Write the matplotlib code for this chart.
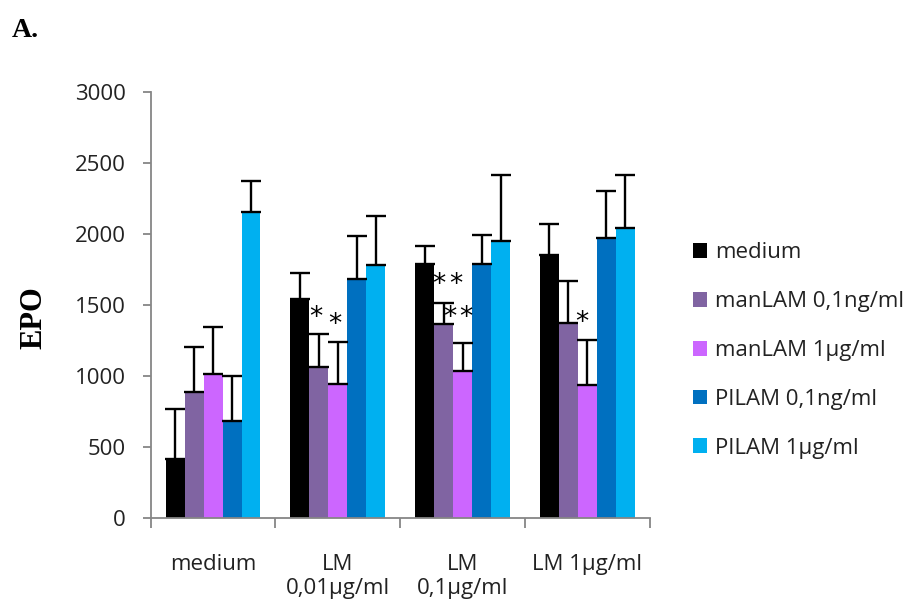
import numpy as np
import matplotlib
matplotlib.use("Agg")
import matplotlib.pyplot as plt

## data
groups = ["medium", "LM\n0,01µg/ml", "LM\n0,1µg/ml", "LM 1µg/ml"]
series = ["medium", "manLAM 0,1ng/ml", "manLAM 1µg/ml", "PILAM 0,1ng/ml", "PILAM 1µg/ml"]
colors = ["#000000", "#8064A2", "#CC66FF", "#0070C0", "#00B0F0"]

medium_vals = [415, 1540, 1793, 1856]
man01_vals = [891, 1062, 1369, 1376]
man1_vals = [1017, 945, 1036, 935]
pi01_vals = [682, 1685, 1793, 1973]
pi1_vals = [2154, 1786, 1955, 2046]

medium_err = [351, 183, 122, 218]
man01_err = [316, 234, 147, 293]
man1_err = [326, 295, 194, 321]
pi01_err = [319, 300, 201, 331]
pi1_err = [223, 342, 461, 370]

values = [medium_vals, man01_vals, man1_vals, pi01_vals, pi1_vals]
errors = [medium_err, man01_err, man1_err, pi01_err, pi1_err]

# significance stars: (group, offset from group centre, y value)
stars = [(1, -0.18, 1409), (1, -0.028, 1359),
         (2, -0.19, 1640), (2, -0.055, 1640),
         (2, -0.10, 1409), (2, 0.025, 1409),
         (3, -0.044, 1373)]

## PLOT
plt.rcParams['font.family'] = ['Open Sans', 'DejaVu Sans']
fig = plt.figure(figsize=(9.19, 6.06), dpi=100)
ax = fig.add_axes([0.164, 0.145, 0.543, 0.703])

x = np.arange(len(groups))
w = 0.152
for i in range(len(series)):
    pos = x + (i - 2) * w
    ax.bar(pos, values[i], w, color=colors[i], label=series[i])
    ax.errorbar(pos, values[i], yerr=[np.zeros(len(groups)), errors[i]],
                fmt="none", ecolor="black", elinewidth=1.7, capsize=7, capthick=1.7)

for g, dx, yv in stars:
    ax.text(x[g] + dx, yv, "*", ha="center", va="center",
            fontsize=19, family="DejaVu Sans")

ax.set_xlim(-0.5, 3.5)
ax.set_ylim(0, 3000)
ax.set_yticks(np.arange(0, 3001, 500))
ax.set_xticks(x)
ax.set_xticklabels(groups, fontsize=16, color="#222222")
ax.set_xticks(np.arange(-0.5, 3.6, 1), minor=True)
ax.tick_params(axis="x", which="major", length=0, pad=26)
ax.tick_params(axis="x", which="minor", length=7, color="#868686", width=1.3)
ax.tick_params(axis="y", length=6, color="#868686", width=1.3, labelsize=16,
               labelcolor="#222222", pad=12)
for side in ["top", "right"]:
    ax.spines[side].set_visible(False)
for side in ["left", "bottom"]:
    ax.spines[side].set_color("#868686")
    ax.spines[side].set_linewidth(1.3)

fig.text(34 / 919, 1 - 318 / 606, "EPO", family="Liberation Serif", fontweight="bold",
         fontsize=22, rotation=90, ha="center", va="center")

ax.legend(loc="center left", bbox_to_anchor=(693 / 919, 1 - 350.5 / 606),
          bbox_transform=fig.transFigure, frameon=False, borderpad=0, borderaxespad=0,
          fontsize=16, handlelength=0.65, handleheight=0.65, handletextpad=0.35,
          labelspacing=1.25, labelcolor="#222222")

fig.text(12 / 919, 1 - 37 / 606, "A.", family="Liberation Serif", fontweight="bold",
         fontsize=20, va="baseline")

fig.savefig("out.png", dpi=100)
